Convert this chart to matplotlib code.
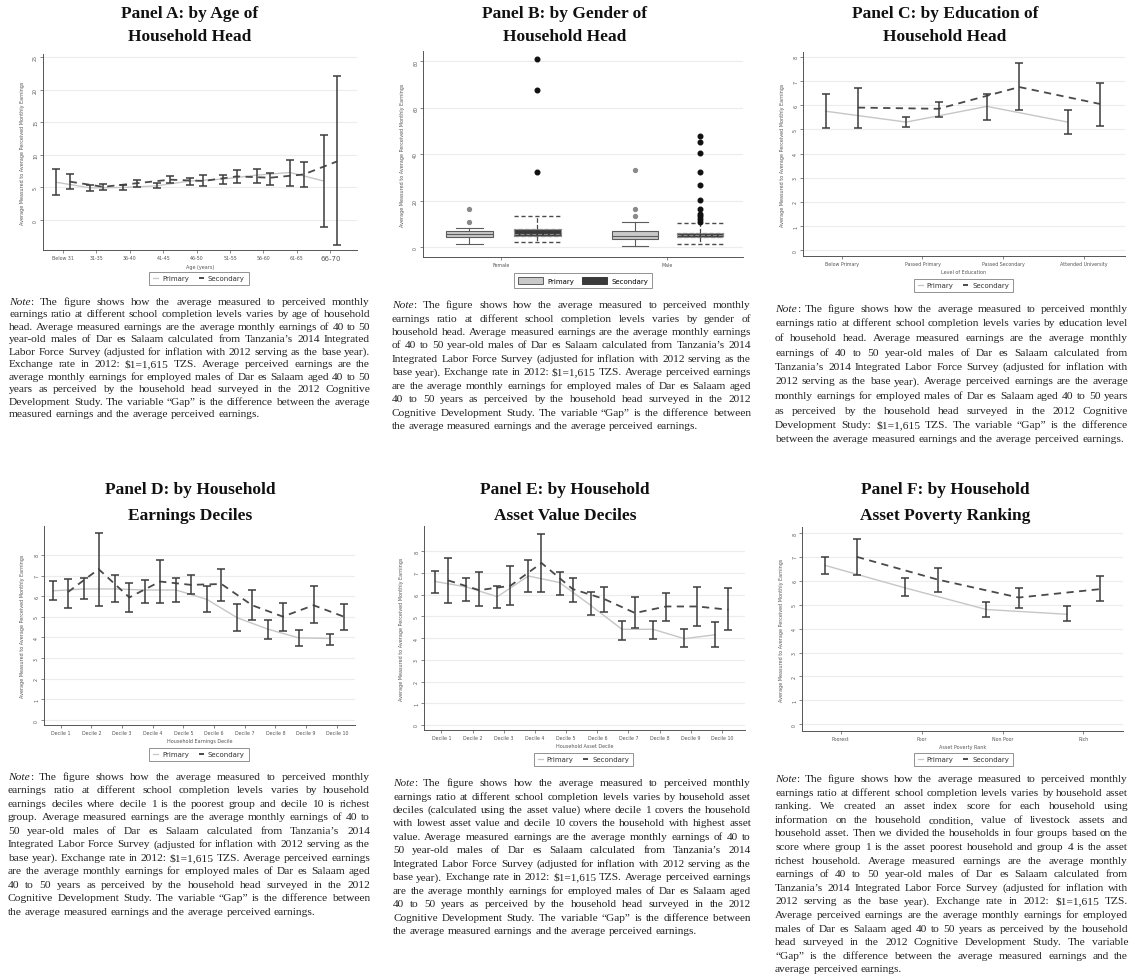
import numpy as np
import matplotlib
matplotlib.use("Agg")
import matplotlib.pyplot as plt
from matplotlib.lines import Line2D
from matplotlib.patches import Patch

# ---- data ----
age_labels = ["Below 31", "31-35", "36-40", "41-45", "46-50", "51-55", "56-60", "61-65", "66-70"]
age_prim_mean = [5.8, 4.95, 5.0, 5.25, 6.0, 6.3, 6.9, 7.3, 6.0]
age_prim_lo = [3.8, 4.5, 4.65, 4.9, 5.4, 5.6, 5.65, 5.3, -1.0]
age_prim_hi = [7.8, 5.4, 5.35, 5.7, 6.4, 6.95, 7.85, 9.2, 13.1]
age_sec_mean = [5.9, 5.1, 5.65, 6.2, 6.0, 6.7, 6.5, 7.0, 9.0]
age_sec_lo = [4.7, 4.6, 5.15, 5.65, 5.25, 5.65, 5.45, 5.05, -3.8]
age_sec_hi = [7.1, 5.5, 6.2, 6.8, 6.85, 7.75, 7.2, 8.9, 22.1]

gender_labels = ["Female", "Male"]
# box stats: whislo, q1, med, q3, whishi
gender_prim_box = [[1.5, 4.3, 5.5, 6.8, 8.2], [0.5, 3.3, 4.9, 6.8, 10.8]]
gender_prim_out = [[11.0, 16.5], [13.4, 16.5, 33.0]]
gender_sec_box = [[2.2, 4.7, 5.8, 7.6, 13.5], [1.2, 4.3, 5.3, 6.1, 10.4]]
gender_sec_out = [[32.5, 67.6, 81.0],
                  [11.0, 12.2, 13.5, 14.3, 16.5, 20.1, 26.9, 32.5, 40.5, 45.1, 47.7]]

edu_labels = ["Below Primary", "Passed Primary", "Passed Secondary", "Attended University"]
edu_prim_mean = [5.75, 5.3, 5.95, 5.3]
edu_prim_lo = [5.05, 5.1, 5.4, 4.8]
edu_prim_hi = [6.45, 5.5, 6.45, 5.8]
edu_sec_mean = [5.9, 5.85, 6.75, 6.05]
edu_sec_lo = [5.05, 5.5, 5.8, 5.15]
edu_sec_hi = [6.72, 6.15, 7.75, 6.9]

decile_labels = ["Decile 1", "Decile 2", "Decile 3", "Decile 4", "Decile 5",
                 "Decile 6", "Decile 7", "Decile 8", "Decile 9", "Decile 10"]
earn_prim_mean = [6.26, 6.35, 6.35, 6.3, 6.3, 5.85, 4.95, 4.4, 3.98, 3.95]
earn_prim_lo = [5.8, 5.86, 5.7, 5.65, 5.7, 5.25, 4.33, 3.95, 3.57, 3.64]
earn_prim_hi = [6.75, 6.9, 7.02, 6.78, 6.9, 6.5, 5.6, 4.83, 4.38, 4.19]
earn_sec_mean = [6.2, 7.31, 5.94, 6.71, 6.55, 6.59, 5.56, 5.01, 5.56, 5.0]
earn_sec_lo = [5.43, 5.54, 5.25, 5.65, 6.09, 5.75, 4.85, 4.32, 4.69, 4.35]
earn_sec_hi = [6.83, 9.08, 6.62, 7.75, 7.02, 7.34, 6.3, 5.68, 6.5, 5.64]

asset_prim_mean = [6.6, 6.35, 5.9, 6.85, 6.55, 5.5, 4.4, 4.4, 3.97, 4.15]
asset_prim_lo = [6.05, 5.68, 5.4, 6.12, 6.0, 5.05, 3.9, 3.95, 3.6, 3.6]
asset_prim_hi = [7.1, 6.77, 6.4, 7.6, 7.02, 6.1, 4.8, 4.8, 4.4, 4.75]
asset_sec_mean = [6.65, 6.2, 6.4, 7.45, 6.25, 5.8, 5.15, 5.45, 5.45, 5.3]
asset_sec_lo = [5.6, 5.45, 5.5, 6.1, 5.65, 5.2, 4.45, 4.8, 4.55, 4.35]
asset_sec_hi = [7.7, 7.02, 7.3, 8.8, 6.75, 6.35, 5.9, 6.08, 6.35, 6.3]

rank_labels = ["Poorest", "Poor", "Non Poor", "Rich"]
rank_prim_mean = [6.65, 5.7, 4.8, 4.6]
rank_prim_lo = [6.3, 5.35, 4.5, 4.3]
rank_prim_hi = [7.0, 6.1, 5.1, 4.95]
rank_sec_mean = [7.0, 6.05, 5.3, 5.65]
rank_sec_lo = [6.25, 5.55, 4.85, 5.15]
rank_sec_hi = [7.75, 6.55, 5.7, 6.2]

YLABEL = "Average Measured to Average Perceived Monthly Earnings"

NOTE_A = [
    "Note: The figure shows how the average measured to perceived monthly",
    "earnings ratio at different school completion levels varies by age of household",
    "head. Average measured earnings are the average monthly earnings of 40 to 50",
    "year-old males of Dar es Salaam calculated from Tanzania\u2019s 2014 Integrated",
    "Labor Force Survey (adjusted for inflation with 2012 serving as the base year).",
    "Exchange rate in 2012: $1=1,615 TZS. Average perceived earnings are the",
    "average monthly earnings for employed males of Dar es Salaam aged 40 to 50",
    "years as perceived by the household head surveyed in the 2012 Cognitive",
    "Development Study. The variable \u201cGap\u201d is the difference between the average",
    "measured earnings and the average perceived earnings.",
]
NOTE_B = [
    "Note: The figure shows how the average measured to perceived monthly",
    "earnings ratio at different school completion levels varies by gender of",
    "household head. Average measured earnings are the average monthly earnings",
    "of 40 to 50 year-old males of Dar es Salaam calculated from Tanzania\u2019s 2014",
    "Integrated Labor Force Survey (adjusted for inflation with 2012 serving as the",
    "base year). Exchange rate in 2012: $1=1,615 TZS. Average perceived earnings",
    "are the average monthly earnings for employed males of Dar es Salaam aged",
    "40 to 50 years as perceived by the household head surveyed in the 2012",
    "Cognitive Development Study. The variable \u201cGap\u201d is the difference between",
    "the average measured earnings and the average perceived earnings.",
]
NOTE_C = [
    "Note: The figure shows how the average measured to perceived monthly",
    "earnings ratio at different school completion levels varies by education level",
    "of household head. Average measured earnings are the average monthly",
    "earnings of 40 to 50 year-old males of Dar es Salaam calculated from",
    "Tanzania\u2019s 2014 Integrated Labor Force Survey (adjusted for inflation with",
    "2012 serving as the base year). Average perceived earnings are the average",
    "monthly earnings for employed males of Dar es Salaam aged 40 to 50 years",
    "as perceived by the household head surveyed in the 2012 Cognitive",
    "Development Study: $1=1,615 TZS. The variable \u201cGap\u201d is the difference",
    "between the average measured earnings and the average perceived earnings.",
]
NOTE_D = [
    "Note: The figure shows how the average measured to perceived monthly",
    "earnings ratio at different school completion levels varies by household",
    "earnings deciles where decile 1 is the poorest group and decile 10 is richest",
    "group. Average measured earnings are the average monthly earnings of 40 to",
    "50 year-old males of Dar es Salaam calculated from Tanzania\u2019s 2014",
    "Integrated Labor Force Survey (adjusted for inflation with 2012 serving as the",
    "base year). Exchange rate in 2012: $1=1,615 TZS. Average perceived earnings",
    "are the average monthly earnings for employed males of Dar es Salaam aged",
    "40 to 50 years as perceived by the household head surveyed in the 2012",
    "Cognitive Development Study. The variable \u201cGap\u201d is the difference between",
    "the average measured earnings and the average perceived earnings.",
]
NOTE_E = [
    "Note: The figure shows how the average measured to perceived monthly",
    "earnings ratio at different school completion levels varies by household asset",
    "deciles (calculated using the asset value) where decile 1 covers the household",
    "with lowest asset value and decile 10 covers the household with highest asset",
    "value. Average measured earnings are the average monthly earnings of 40 to",
    "50 year-old males of Dar es Salaam calculated from Tanzania\u2019s 2014",
    "Integrated Labor Force Survey (adjusted for inflation with 2012 serving as the",
    "base year). Exchange rate in 2012: $1=1,615 TZS. Average perceived earnings",
    "are the average monthly earnings for employed males of Dar es Salaam aged",
    "40 to 50 years as perceived by the household head surveyed in the 2012",
    "Cognitive Development Study. The variable \u201cGap\u201d is the difference between",
    "the average measured earnings and the average perceived earnings.",
]
NOTE_F = [
    "Note: The figure shows how the average measured to perceived monthly",
    "earnings ratio at different school completion levels varies by household asset",
    "ranking. We created an asset index score for each household using",
    "information on the household condition, value of livestock assets and",
    "household asset. Then we divided the households in four groups based on the",
    "score where group 1 is the asset poorest household and group 4 is the asset",
    "richest household. Average measured earnings are the average monthly",
    "earnings of 40 to 50 year-old males of Dar es Salaam calculated from",
    "Tanzania\u2019s 2014 Integrated Labor Force Survey (adjusted for inflation with",
    "2012 serving as the base year). Exchange rate in 2012: $1=1,615 TZS.",
    "Average perceived earnings are the average monthly earnings for employed",
    "males of Dar es Salaam aged 40 to 50 years as perceived by the household",
    "head surveyed in the 2012 Cognitive Development Study. The variable",
    "\u201cGap\u201d is the difference between the average measured earnings and the",
    "average perceived earnings.",
]

PRIM = "#c6c6c6"
SEC = "#4a4a4a"
ERR = "#3c3c3c"
GRID = "#ececec"
AXC = "#555555"
SERIF = "Liberation Serif"

W, H = 1133, 978
fig = plt.figure(figsize=(W / 100, H / 100), dpi=100)
fig.patch.set_facecolor("white")


def px_axes(l, t, r, b):
    return fig.add_axes([l / W, 1 - b / H, (r - l) / W, (b - t) / H])


def fx(x):
    return x / W


def fy(y):
    return 1 - y / H


def style_axes(ax, box, xlim, ylim, yticks, ylab_x):
    ax.set_xlim(*xlim)
    ax.set_ylim(*ylim)
    ax.set_yticks(yticks)
    for s in ("top", "right"):
        ax.spines[s].set_visible(False)
    for s in ("left", "bottom"):
        ax.spines[s].set_color(AXC)
        ax.spines[s].set_linewidth(0.7)
    ax.grid(axis="y", color=GRID, lw=0.8)
    ax.set_axisbelow(True)
    ax.tick_params(labelsize=3.4, colors=AXC, length=2, width=0.5, pad=1.5)
    ax.tick_params(axis="y", labelrotation=90)
    for lab in ax.get_yticklabels():
        lab.set_va("center")
    ax.set_ylabel(YLABEL, fontsize=3.5, color=AXC)
    l, t, r, b = box
    ax.yaxis.set_label_coords((ylab_x - l) / (r - l), 0.5)


def line_legend(cx, cy):
    handles = [Line2D([], [], color=PRIM, lw=0.9),
               Line2D([], [], color=SEC, lw=1.4, ls=(0, (3, 3)))]
    leg = fig.legend(handles, ["Primary", "Secondary"], loc="center",
                     bbox_to_anchor=(fx(cx), fy(cy)), ncol=2, fontsize=5,
                     frameon=True, fancybox=False, edgecolor="#777777",
                     handlelength=0.7, handletextpad=0.6, columnspacing=1.4,
                     borderpad=0.55)
    leg.get_frame().set_linewidth(0.7)
    for t in leg.get_texts():
        t.set_color("#333333")
    return leg


def line_panel(box, cats, off, pm, plo, phi, sm, slo, shi, xlim, ylim, yticks,
               xlabel, ylab_x, leg_c):
    ax = px_axes(*box)
    x = np.arange(len(cats))
    xp = x - off
    xs = x + off
    ax.plot(xp, pm, color=PRIM, lw=1.0, zorder=2)
    ax.plot(xs, sm, color=SEC, lw=1.3, ls=(0, (4, 3)), zorder=3)
    for xx, m, lo, hi in ((xp, pm, plo, phi), (xs, sm, slo, shi)):
        m = np.asarray(m)
        ax.errorbar(xx, m, yerr=[m - np.asarray(lo), np.asarray(hi) - m], fmt="none",
                    ecolor=ERR, elinewidth=1.1, capsize=2.6, capthick=1.1, zorder=4)
    ax.set_xticks(x, cats)
    ax.set_xlabel(xlabel, fontsize=3.5, color=AXC, labelpad=2.5)
    style_axes(ax, box, xlim, ylim, yticks, ylab_x)
    line_legend(*leg_c)
    return ax


def title(cx, y1, y2, l1, l2):
    fig.text(fx(cx), fy(y1), l1, ha="center", va="center", fontsize=12.5,
             weight="bold", family=SERIF, color="#111111")
    fig.text(fx(cx), fy(y2), l2, ha="center", va="center", fontsize=12.5,
             weight="bold", family=SERIF, color="#111111")


def note(lines, x0, x1, y0, dy):
    ren = fig.canvas.get_renderer()

    def wid(t):
        return t.get_window_extent(ren).width

    base = 10
    nat = []
    for ln in lines[:-1]:
        t = fig.text(0, 0, ln, fontsize=base, family=SERIF)
        nat.append(wid(t))
        t.remove()
    fs = base * (x1 - x0) / max(nat) * 0.995
    t1 = fig.text(0, 0, "a a", fontsize=fs, family=SERIF)
    t2 = fig.text(0, 0, "aa", fontsize=fs, family=SERIF)
    space = wid(t1) - wid(t2)
    t1.remove()
    t2.remove()
    kw = dict(fontsize=fs, family=SERIF, va="baseline", color="#222222")
    for i, ln in enumerate(lines):
        yb = fy(y0 + i * dy + 3)
        groups = []
        for j, w in enumerate(ln.split(" ")):
            if i == 0 and j == 0 and w.startswith("Note"):
                groups.append([fig.text(0, yb, "Note", style="italic", **kw),
                               fig.text(0, yb, w[4:], **kw)])
            else:
                groups.append([fig.text(0, yb, w, **kw)])
        widths = [sum(wid(a) for a in g) for g in groups]
        if i < len(lines) - 1 and len(groups) > 1:
            gap = ((x1 - x0) - sum(widths)) / (len(groups) - 1)
        else:
            gap = space
        x = x0
        for g, wd in zip(groups, widths):
            xx = x
            for a in g:
                a.set_x(fx(xx))
                xx += wid(a)
            x += wd + gap


# ---- Panel A ----
title(190, 14, 37, "Panel A: by Age of", "Household Head")
box_a = (43, 55, 357, 251)
ax_a = line_panel(box_a, age_labels, 0.2, age_prim_mean, age_prim_lo, age_prim_hi,
                  age_sec_mean, age_sec_lo, age_sec_hi, (-0.6, 8.8), (-4.6, 25.5),
                  [0, 5, 10, 15, 20, 25], "Age (years)", 25, (199, 279.5))
ax_a.get_xticklabels()[-1].set_fontsize(5)
note(NOTE_A, 9, 370, 302, 12.5)

# ---- Panel B ----
title(565, 14, 37, "Panel B: by Gender of", "Household Head")
box_b = (423, 52, 743, 258)
ax_b = px_axes(*box_b)


def box_stats(rows, outs):
    return [dict(whislo=r[0], q1=r[1], med=r[2], q3=r[3], whishi=r[4], fliers=o)
            for r, o in zip(rows, outs)]


ax_b.bxp(box_stats(gender_prim_box, gender_prim_out), positions=[-0.19, 0.81],
         widths=0.28, patch_artist=True, capwidths=0.16,
         boxprops=dict(facecolor="#c9c9c9", edgecolor="#5c5c5c", lw=0.8),
         medianprops=dict(color="#5c5c5c", lw=0.8),
         whiskerprops=dict(color="#5c5c5c", lw=0.8),
         capprops=dict(color="#5c5c5c", lw=0.8),
         flierprops=dict(marker="o", markerfacecolor="#8a8a8a",
                         markeredgecolor="#8a8a8a", markersize=2.8))
ax_b.bxp(box_stats(gender_sec_box, gender_sec_out), positions=[0.22, 1.2],
         widths=0.28, patch_artist=True, capwidths=0.28,
         boxprops=dict(facecolor="#3a3a3a", edgecolor="#8a8a8a", lw=0.9, ls="--"),
         medianprops=dict(color="#8a8a8a", lw=0.8, ls="--"),
         whiskerprops=dict(color="#4a4a4a", lw=0.9, ls="--"),
         capprops=dict(color="#4a4a4a", lw=1.0, ls=(0, (3, 2))),
         flierprops=dict(marker="o", markerfacecolor="#111111",
                         markeredgecolor="#111111", markersize=3.3))
ax_b.set_xticks([0, 1], gender_labels)
style_axes(ax_b, box_b, (-0.47, 1.46), (-4.3, 84.5), [0, 20, 40, 60, 80], 405)
leg_b = fig.legend([Patch(facecolor="#c9c9c9", edgecolor="#5c5c5c", lw=0.7),
                    Patch(facecolor="#3a3a3a", edgecolor="#3a3a3a", lw=0.7)],
                   ["Primary", "Secondary"], loc="center",
                   bbox_to_anchor=(fx(583), fy(281.5)), ncol=2, fontsize=5,
                   frameon=True, fancybox=False, edgecolor="#777777",
                   handlelength=3.6, handleheight=1.3, handletextpad=0.6,
                   columnspacing=1.2, borderpad=0.5)
leg_b.get_frame().set_linewidth(0.7)
note(NOTE_B, 392, 751, 305, 13.5)

# ---- Panel C ----
title(945, 14, 37, "Panel C: by Education of", "Household Head")
line_panel((803, 53, 1125, 257), edu_labels, 0.2, edu_prim_mean, edu_prim_lo,
           edu_prim_hi, edu_sec_mean, edu_sec_lo, edu_sec_hi, (-0.48, 3.51),
           (-0.24, 8.2), range(9), "Level of Education", 785, (963.5, 286.5))
note(NOTE_C, 775, 1128, 309, 14.5)

# ---- Panel D ----
title(190, 490, 516, "Panel D: by Household", "Earnings Deciles")
line_panel((44, 527, 355, 726), decile_labels, 0.24, earn_prim_mean, earn_prim_lo,
           earn_prim_hi, earn_sec_mean, earn_sec_lo, earn_sec_hi, (-0.54, 9.59),
           (-0.24, 9.4), range(9), "Household Earnings Decile", 25, (199, 755.5))
note(NOTE_D, 8, 370, 777, 13.5)

# ---- Panel E ----
title(565, 490, 516, "Panel E: by Household", "Asset Value Deciles")
line_panel((424, 527, 745, 731), decile_labels, 0.21, asset_prim_mean, asset_prim_lo,
           asset_prim_hi, asset_sec_mean, asset_sec_lo, asset_sec_hi, (-0.56, 9.74),
           (-0.23, 9.15), range(9), "Household Asset Decile", 404, (583.5, 760.5))
note(NOTE_E, 393, 751, 783, 13.5)

# ---- Panel F ----
title(945, 490, 516, "Panel F: by Household", "Asset Poverty Ranking")
line_panel((802, 528, 1123, 732), rank_labels, 0.2, rank_prim_mean, rank_prim_lo,
           rank_prim_hi, rank_sec_mean, rank_sec_lo, rank_sec_hi, (-0.48, 3.49),
           (-0.28, 8.25), range(9), "Asset Poverty Rank", 784, (963.5, 760.5))
note(NOTE_F, 775, 1128, 779, 13.6)

fig.savefig("out.png", dpi=100, facecolor="white")
